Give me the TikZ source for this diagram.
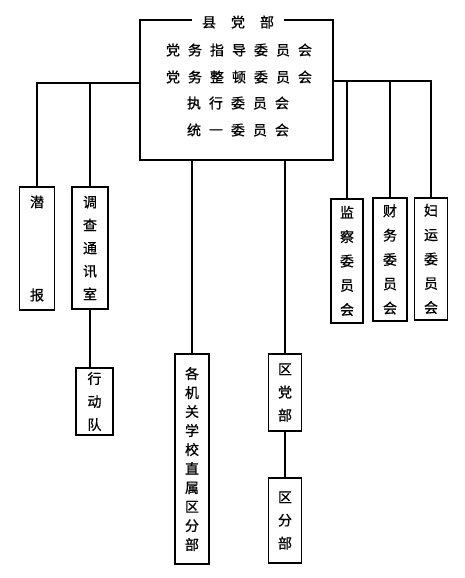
\documentclass[tikz,border=0pt]{standalone}
\usepackage{fontspec}
\newfontfamily\cjk[FakeBold=0.8]{Noto Sans CJK SC}
\begin{document}
\begin{tikzpicture}[x=1pt,y=-1pt, line width=1.5pt,
  box/.style={draw, inner sep=0pt, align=center, font=\cjk\fontsize{14}{23}\selectfont},
  rowtxt/.style={inner sep=0pt, font=\cjk\fontsize{14}{16}\selectfont}]
\useasboundingbox (0,0) rectangle (465,578);
% main box
\node[box, minimum width=193pt, minimum height=140pt] (main) at (236.5,90) {};
\node[fill=white, inner xsep=10pt, inner ysep=2pt, font=\cjk\fontsize{14}{16}\selectfont] (title) at (238,22) {县\kern15pt 党\kern15pt 部};
\node[rowtxt] (r1) at (239,50) {党\kern8pt 务\kern8pt 指\kern8pt 导\kern8pt 委\kern8pt 员\kern8pt 会};
\node[rowtxt] (r2) at (239,77) {党\kern8pt 务\kern8pt 整\kern8pt 顿\kern8pt 委\kern8pt 员\kern8pt 会};
\node[rowtxt] (r3) at (238,103) {执\kern8pt 行\kern8pt 委\kern8pt 员\kern8pt 会};
\node[rowtxt] (r4) at (238,130) {统\kern8pt 一\kern8pt 委\kern8pt 员\kern8pt 会};
% left boxes
\node[box, minimum width=35pt, minimum height=123pt] (qb) at (37,248.5) {潜\\[70pt]报};
\node[box, minimum width=36pt, minimum height=122pt] (dc) at (90,248) {调\\查\\通\\讯\\室};
\node[box, minimum width=37pt, minimum height=67pt] (xd) at (94.5,401.5) {行\\动\\队};
% middle boxes
\node[box, minimum width=34pt, minimum height=210pt, font=\cjk\fontsize{14}{19}\selectfont] (gj) at (192,459) {各\\机\\关\\学\\校\\直\\属\\区\\分\\部};
\node[box, minimum width=33pt, minimum height=77pt] (qd) at (285,392.5) {区\\党\\部};
\node[box, minimum width=33pt, minimum height=85pt] (qf) at (285,520.5) {区\\分\\部};
% right boxes
\node[box, minimum width=32pt, minimum height=124pt, font=\cjk\fontsize{14}{24.3}\selectfont] (jc) at (347,261) {监\\察\\委\\员\\会};
\node[box, minimum width=34pt, minimum height=123pt, font=\cjk\fontsize{14}{24.3}\selectfont] (cw) at (390,259.5) {财\\务\\委\\员\\会};
\node[box, minimum width=33pt, minimum height=122pt, font=\cjk\fontsize{14}{24.3}\selectfont] (fy) at (431,259) {妇\\运\\委\\员\\会};
% connectors
\coordinate (lj) at (main.west |- 0,83);
\coordinate (lq) at (qb.north |- 0,83);
\draw (lj) -- (lq) -- (qb.north);
\draw (dc.north |- lj) -- (dc.north);
\draw (dc.south) -- (dc.south |- xd.north);
\draw (main.south -| gj.north) -- (gj.north);
\draw (main.south -| qd.north) -- (qd.north);
\draw (qd.south) -- (qf.north);
\coordinate (rj) at (main.east |- 0,81);
\coordinate (rf) at (fy.north |- 0,81);
\draw (rj) -- (rf) -- (fy.north);
\draw (jc.north |- rj) -- (jc.north);
\draw (cw.north |- rj) -- (cw.north);
\end{tikzpicture}
\end{document}
